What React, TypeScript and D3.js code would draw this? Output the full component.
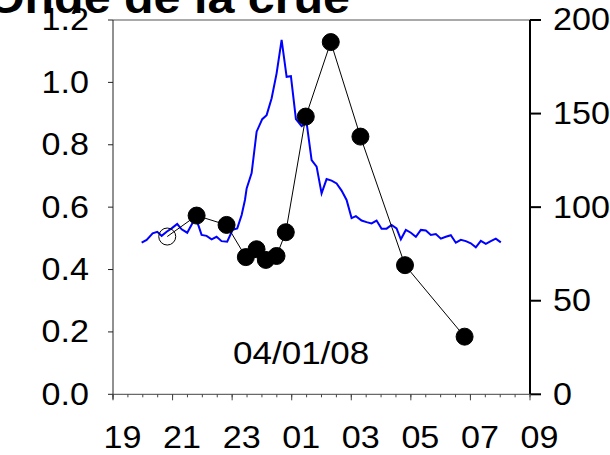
import React from "react";
import * as d3 from "d3";

// Blue series (left axis), time in hours after 19:00
const blueHours = [0.962,1.130,1.331,1.486,1.633,1.801,1.968,2.156,2.304,2.492,2.693,2.827,2.974,3.142,3.310,3.477,3.645,3.833,4.017,4.171,4.319,4.430,4.487,4.654,4.822,5.010,5.158,5.326,5.493,5.661,5.829,5.973,6.141,6.332,6.500,6.668,6.836,7.003,7.171,7.339,7.507,7.674,7.842,8.010,8.154,8.346,8.513,8.681,8.849,9.017,9.185,9.352,9.520,9.664,9.832,10.000,10.168,10.336,10.503,10.671,10.839,11.007,11.174,11.342,11.510,11.678,11.846,12.013,12.181,12.349,12.517,12.685,12.852,13.020];
const blueValues = [0.486,0.495,0.516,0.521,0.508,0.521,0.532,0.546,0.529,0.518,0.553,0.553,0.511,0.508,0.497,0.505,0.491,0.489,0.527,0.532,0.575,0.623,0.660,0.709,0.842,0.882,0.895,0.949,1.029,1.136,1.018,1.020,0.882,0.860,0.871,0.751,0.730,0.644,0.690,0.685,0.676,0.653,0.623,0.565,0.571,0.557,0.552,0.548,0.557,0.531,0.531,0.543,0.532,0.497,0.527,0.518,0.505,0.527,0.525,0.511,0.514,0.499,0.505,0.510,0.486,0.495,0.491,0.484,0.471,0.492,0.482,0.491,0.499,0.487];

// Black series (right axis)
const blackHours = [1.821,2.807,3.813,4.460,4.819,5.131,5.490,5.801,6.472,7.311,8.307,9.803,11.804];
const blackValues = [84.3,95.5,90.5,73.3,77.5,71.8,73.9,86.6,148.4,188.2,137.7,69.0,30.8];
const blackOpen = [true,false,false,false,false,false,false,false,false,false,false,false,false];

const leftTicks = [0, 0.2, 0.4, 0.6, 0.8, 1.0, 1.2];
const rightTicks = [0, 50, 100, 150, 200];
const xTickLabels = ["19", "21", "23", "01", "03", "05", "07", "09"];
const title = "Onde de la crue";
const annotation = "04/01/08";

export default function App() {
  const W = 610, H = 455;
  const L = 113, R = 530, T = 20, B = 394.3;
  const x = d3.scaleLinear().domain([0, 14]).range([L, R]);
  const yL = d3.scaleLinear().domain([0, 1.2]).range([B, T]);
  const yR = d3.scaleLinear().domain([0, 200]).range([B, T]);
  const font = "'Liberation Sans', Arial, sans-serif";
  const sx = 1.1;

  const blueLine = d3.line<number>()
    .x((_, i) => x(blueHours[i]))
    .y((d) => yL(d))(blueValues) || "";
  const blackLine = d3.line<number>()
    .x((_, i) => x(blackHours[i]))
    .y((d) => yR(d))(blackValues) || "";

  const minor = d3.range(0, 14.001, 0.5);
  const major = d3.range(0, 14.001, 2);

  return (
    <svg width={W} height={H} style={{ position: "absolute", left: 0, top: 0 }}>
      <rect width={W} height={H} fill="#fff" />
      <g transform={`translate(350,13) scale(1.1,1)`}>
        <text x={0} y={0} textAnchor="end" fontFamily={font} fontWeight="bold" fontSize={44} fill="#000">{title}</text>
      </g>

      {/* top border */}
      <line x1={L} x2={R} y1={T} y2={T} stroke="#555" strokeWidth={1} />
      {/* left axis */}
      <line x1={L} x2={L} y1={T} y2={B + 5} stroke="#222" strokeWidth={1} />
      {leftTicks.map((t) => (
        <g key={"l" + t}>
          <line x1={L - 5} x2={L} y1={yL(t)} y2={yL(t)} stroke="#222" strokeWidth={1} />
          <g transform={`translate(89,${yL(t)}) scale(${sx},1)`}>
            <text x={0} y={0} textAnchor="end" dominantBaseline="central" fontFamily={font} fontSize={31} fill="#000">{t.toFixed(1)}</text>
          </g>
        </g>
      ))}
      {/* right axis */}
      <line x1={R} x2={R} y1={T} y2={B} stroke="#000" strokeWidth={2} />
      {rightTicks.map((t) => (
        <g key={"r" + t}>
          <line x1={R} x2={R + 11} y1={yR(t)} y2={yR(t)} stroke="#000" strokeWidth={2} />
          <g transform={`translate(553,${yR(t)}) scale(${sx},1)`}>
            <text x={0} y={0} textAnchor="start" dominantBaseline="central" fontFamily={font} fontSize={31} fill="#000">{t}</text>
          </g>
        </g>
      ))}
      {/* bottom axis */}
      <line x1={L} x2={R} y1={B} y2={B} stroke="#444" strokeWidth={1} />
      {minor.map((t) => (
        <line key={"m" + t} x1={x(t)} x2={x(t)} y1={B} y2={B + 3} stroke="#444" strokeWidth={1} />
      ))}
      {major.map((t) => (
        <line key={"M" + t} x1={x(t)} x2={x(t)} y1={B} y2={B + 6} stroke="#444" strokeWidth={1} />
      ))}
      {major.map((t, i) => (
        <g key={"xl" + t} transform={`translate(${x(t) + 9.5},448) scale(${sx},1)`}>
          <text x={0} y={0} textAnchor="middle" fontFamily={font} fontSize={31} fill="#000">{xTickLabels[i]}</text>
        </g>
      ))}

      {/* blue series */}
      <path d={blueLine} fill="none" stroke="#0000ff" strokeWidth={2} />
      {/* black series */}
      <path d={blackLine} fill="none" stroke="#000" strokeWidth={1} />
      {blackValues.map((v, i) => (
        <circle key={"c" + i} cx={x(blackHours[i])} cy={yR(v)} r={8.5}
          fill={blackOpen[i] ? "none" : "#000"} stroke="#000" strokeWidth={1} />
      ))}

      <g transform={`translate(233,364) scale(1.13,1)`}>
        <text x={0} y={0} fontFamily={font} fontSize={31} fill="#000">{annotation}</text>
      </g>
    </svg>
  );
}
